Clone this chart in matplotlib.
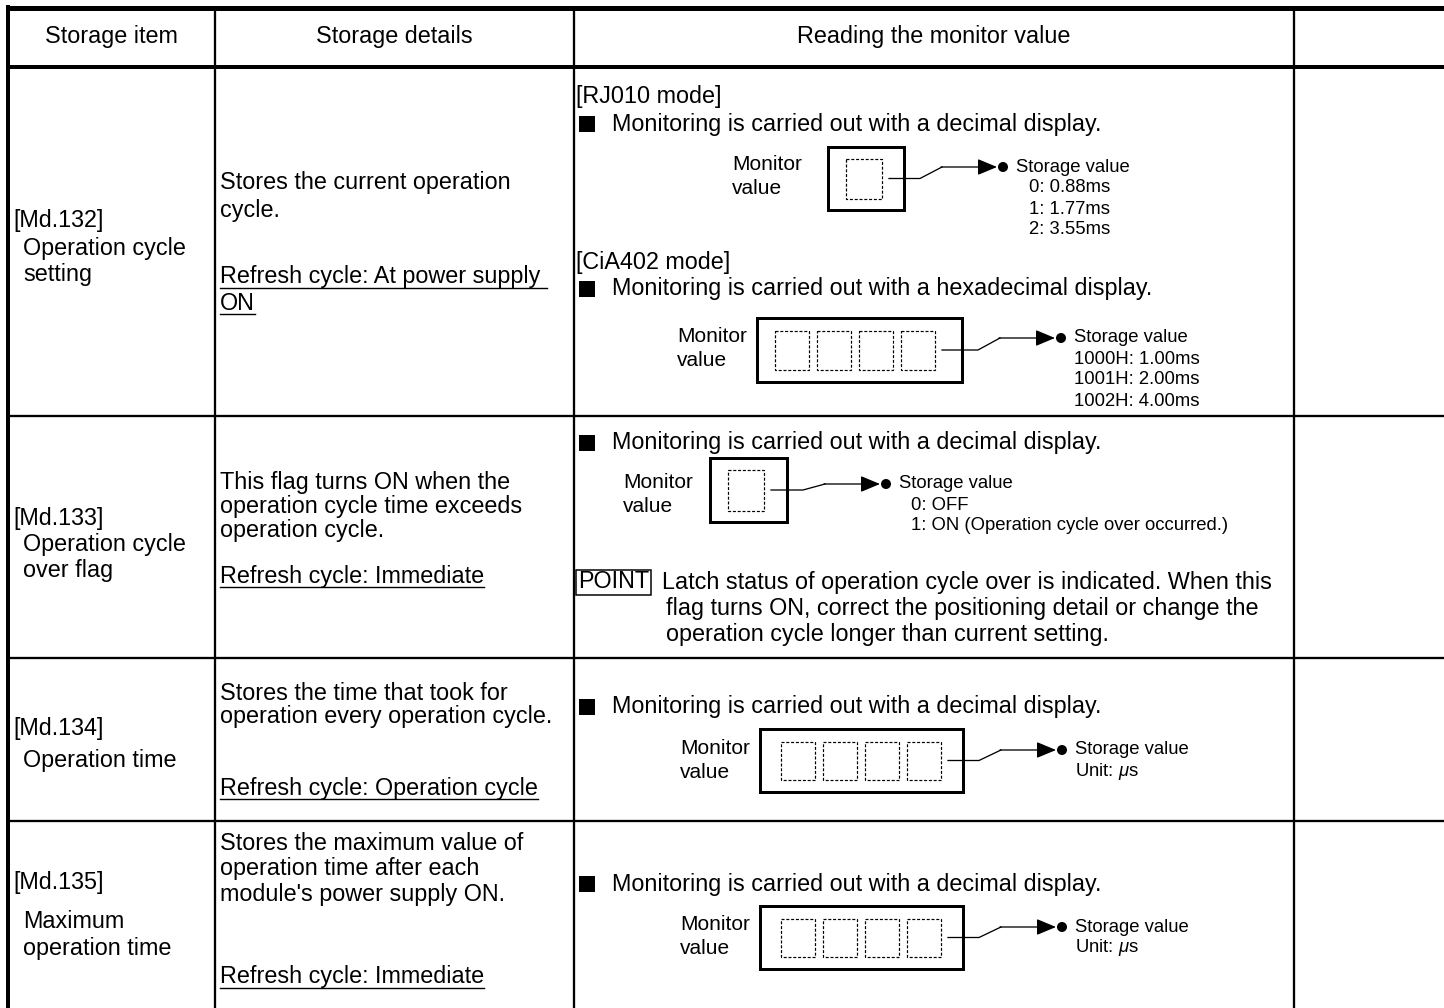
import matplotlib
matplotlib.use("Agg")
import matplotlib.pyplot as plt
from matplotlib.patches import Rectangle, Circle

# ---------- table content ---------- #
HEADERS = ["Storage item", "Storage details", "Reading the monitor value"]
ITEM_CODES = ["[Md.132]", "[Md.133]", "[Md.134]", "[Md.135]"]
ITEM_NAMES = [["Operation cycle", "setting"], ["Operation cycle", "over flag"],
              ["Operation time"], ["Maximum", "operation time"]]
DETAILS = [["Stores the current operation", "cycle."],
           ["This flag turns ON when the", "operation cycle time exceeds", "operation cycle."],
           ["Stores the time that took for", "operation every operation cycle."],
           ["Stores the maximum value of", "operation time after each", "module's power supply ON."]]
REFRESH = [["Refresh cycle: At power supply ", "ON"], ["Refresh cycle: Immediate"],
           ["Refresh cycle: Operation cycle"], ["Refresh cycle: Immediate"]]
MODES = ["[RJ010 mode]", "[CiA402 mode]"]
DEC_NOTE = "Monitoring is carried out with a decimal display."
HEX_NOTE = "Monitoring is carried out with a hexadecimal display."
MON_LABEL = ["Monitor", "value"]
RJ010_VALUES = ["0: 0.88ms", "1: 1.77ms", "2: 3.55ms"]
CIA402_VALUES = ["1000H: 1.00ms", "1001H: 2.00ms", "1002H: 4.00ms"]
FLAG_VALUES = ["0: OFF", "1: ON (Operation cycle over occurred.)"]
TIME_VALUES = ["Unit: $\\mu$s"]
POINT_LINES = ["Latch status of operation cycle over is indicated. When this",
               "flag turns ON, correct the positioning detail or change the",
               "operation cycle longer than current setting."]

# ---------- geometry (pixels) ---------- #
W, H = 1444, 1008
COLS = [8, 215, 574, 1294]
ROWS = [67, 416, 658, 821]
FS = 16.8      # main text, pt
FS_MON = 15.0
FS_VAL = 13.3

plt.rcParams["font.family"] = ["Liberation Sans", "DejaVu Sans"]
plt.rcParams["mathtext.fontset"] = "custom"
plt.rcParams["mathtext.it"] = "Liberation Sans:italic"
plt.rcParams["mathtext.rm"] = "Liberation Sans"

fig = plt.figure(figsize=(W / 100, H / 100), dpi=100)
ax = fig.add_axes([0, 0, 1, 1])
ax.set_xlim(0, W); ax.set_ylim(H, 0); ax.axis("off")
K = "black"
px = 0.72  # px -> pt

# grid
ax.plot([6, W], [7.5, 7.5], color=K, lw=5 * px, solid_capstyle="butt")
ax.plot([6, W], [66.5, 66.5], color=K, lw=4 * px, solid_capstyle="butt")
for y in ROWS[1:]:
    ax.plot([6, W], [y, y], color=K, lw=2.3 * px, solid_capstyle="butt")
ax.plot([COLS[0], COLS[0]], [5, H], color=K, lw=4 * px, solid_capstyle="butt")
for x in COLS[1:]:
    ax.plot([x, x], [7, H], color=K, lw=2.3 * px, solid_capstyle="butt")

def txt(x, y, s, size=FS, ha="left"):
    return ax.text(x, y, s, fontsize=size, ha=ha, va="center", color=K)

# headers
centers = [(COLS[i] + COLS[i + 1]) / 2 for i in range(3)]
for c, h in zip(centers, HEADERS):
    txt(c, 37, h, ha="center")

# column 1
col1_y = [[220, 249, 275], [518, 545, 570], [729, 760], [882, 922, 948]]
for code, names, ys in zip(ITEM_CODES, ITEM_NAMES, col1_y):
    txt(13, ys[0], code)
    for n, y in zip(names, ys[1:]):
        txt(23, y, n)

# column 2
det_y = [[183, 211], [482, 506, 530], [693, 717], [844, 869, 894]]
ref_y = [[277, 303], [576], [788], [977]]
fig.canvas.draw()
rend = fig.canvas.get_renderer()
for lines, ys in zip(DETAILS, det_y):
    for s, y in zip(lines, ys):
        txt(220, y, s)
for lines, ys in zip(REFRESH, ref_y):
    for s, y in zip(lines, ys):
        t = txt(220, y, s)
        bb = t.get_window_extent(rend)
        ax.plot([bb.x0, bb.x1], [y + 11, y + 11], color=K, lw=1.4 * px)

# column 3 helpers
def bullet(y, s):
    ax.add_patch(Rectangle((579, y - 8), 16, 16, color=K, lw=0))
    txt(612, y, s)

def monitor(lx, ly, bx, by, bw, bh, cells, cx0, cw, pitch, ch, vals, vx_off):
    txt(lx, ly, MON_LABEL[0], FS_MON)
    txt(lx, ly + 24, MON_LABEL[1], FS_MON)
    ax.add_patch(Rectangle((bx, by), bw, bh, fill=False, ec=K, lw=3 * px))
    cy = by + (bh - ch) / 2
    for i in range(cells):
        ax.add_patch(Rectangle((cx0 + i * pitch, cy), cw, ch, fill=False, ec=K,
                               lw=1.2 * px, ls=(0, (2.5, 1.5))))
    ymid = by + bh / 2
    x_end = bx + bw
    sx = cx0 + (cells - 1) * pitch + cw + 7
    ty = ly + 2
    ax.plot([sx, x_end + 16, x_end + 38], [ymid, ymid, ty], color=K, lw=1.3 * px)
    ax.annotate("", xy=(x_end + 93, ty), xytext=(x_end + 37, ty),
                arrowprops=dict(arrowstyle="-|>,head_length=0.6,head_width=0.25",
                                color=K, lw=1.3 * px, shrinkA=0, shrinkB=0,
                                mutation_scale=20))
    ax.add_patch(Circle((x_end + 99, ty), 5, color=K, lw=0))
    txt(x_end + 112, ty, "Storage value", FS_VAL)
    for i, v in enumerate(vals):
        txt(x_end + 112 + vx_off, ty + 21 * (i + 1), v, FS_VAL)

# row 1
txt(576, 96, MODES[0])
bullet(124, DEC_NOTE)
monitor(732, 165, 828, 147, 76, 63, 1, 846, 36, 0, 40, RJ010_VALUES, 13)
txt(576, 262, MODES[1])
bullet(289, HEX_NOTE)
monitor(677, 336, 757, 318, 205, 64, 4, 775, 34, 42, 39, CIA402_VALUES, 0)

# row 2
bullet(443, DEC_NOTE)
monitor(623, 482, 710, 458, 77, 64, 1, 728, 36, 0, 41, FLAG_VALUES, 12)
pt = txt(578, 582, "POINT")
bb = pt.get_window_extent(rend)
ax.add_patch(Rectangle((bb.x0 - 2, 570), bb.x1 - bb.x0 + 4, 25, fill=False,
                       ec=K, lw=1.5 * px))
txt(662, 582, POINT_LINES[0])
txt(666, 608, POINT_LINES[1])
txt(666, 634, POINT_LINES[2])

# rows 3 and 4
bullet(707, DEC_NOTE)
monitor(680, 748, 760, 729, 203, 63, 4, 781, 34, 42, 38, TIME_VALUES, 0)
bullet(884, DEC_NOTE)
monitor(680, 925, 760, 906, 203, 63, 4, 781, 34, 42, 38, TIME_VALUES, 0)

fig.savefig("out.png", dpi=100, facecolor="white")
